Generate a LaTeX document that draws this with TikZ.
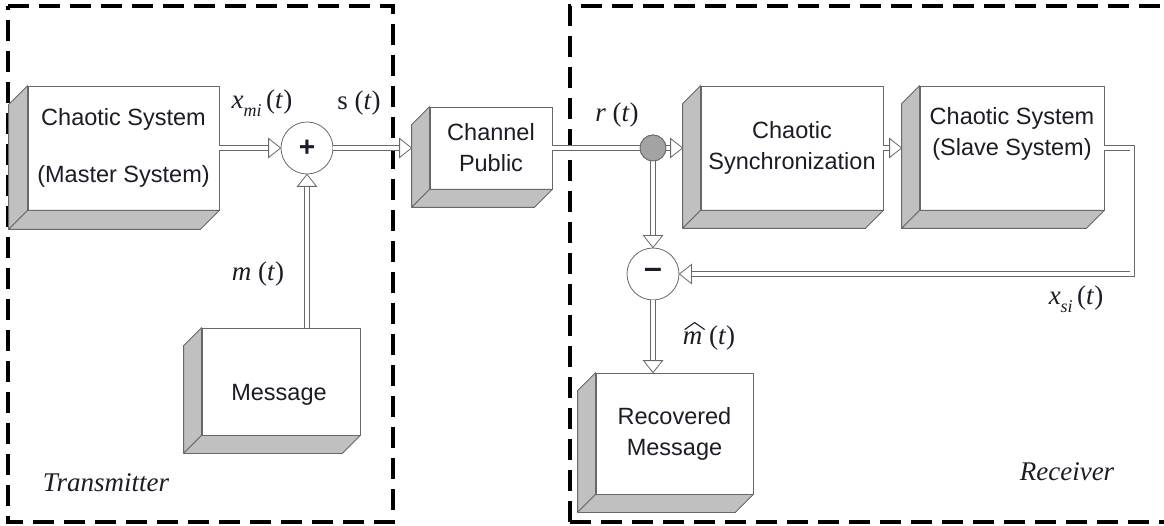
\documentclass[tikz,border=0pt]{standalone}
\usepackage{fontspec}
\setmainfont{Liberation Serif}
\setsansfont{Liberation Sans}
\usetikzlibrary{calc,decorations.markings}

\definecolor{edge}{HTML}{686868}
\definecolor{face}{HTML}{C0C0C0}
\definecolor{ink}{HTML}{1C1C26}

\newcommand\blkfont{\sffamily\fontsize{23.5}{31}\selectfont}
\newcommand\labfont{\rmfamily\fontsize{27}{30}\selectfont}

% gray side and bottom faces of a raised block (node name, depth)
\newcommand\boxfaces[2]{%
  \filldraw[facestyle] (#1.north west) -- ++(-#2,#2) -- ($(#1.south west)+(-#2,#2)$) -- (#1.south west) -- cycle;
  \filldraw[facestyle] (#1.south west) -- ++(-#2,#2) -- ($(#1.south east)+(-#2,#2)$) -- (#1.south east) -- cycle;
}

\begin{document}
\begin{tikzpicture}[x=1pt,y=-1pt,
  block/.style={draw=edge, fill=white, line width=0.8pt, inner sep=0pt,
    text=ink, align=center, font=\blkfont},
  btext/.style={text=ink, align=center, font=\blkfont, inner sep=0pt},
  facestyle/.style={draw=edge, fill=face, line width=0.8pt, line join=round},
  summer/.style={circle, draw=edge, fill=white, line width=0.8pt, minimum size=52pt,
    inner sep=0pt, text=ink},
  junction/.style={circle, draw=edge, fill=face!85!black, line width=0.8pt,
    minimum size=26pt, inner sep=0pt},
  dblline/.style={draw=edge, line width=0.8pt, double=white, double distance=4pt},
  % hollow double-line arrow: shaft stops under an outlined white triangle
  dbl/.style={dblline, shorten >=9pt,
    postaction={decorate, decoration={markings, mark=at position 1 with {
      \filldraw[draw=edge, fill=white, line width=0.8pt, line join=miter]
        (0pt,0pt) -- (-12pt,9.5pt) -- (-12pt,-9.5pt) -- cycle;}}}},
  lab/.style={text=ink, font=\labfont, inner sep=0pt},
  border/.style={black, line width=3.2pt, dash pattern=on 21pt off 10pt}]

\useasboundingbox (0,0) rectangle (1164,526);
\clip (0,0) rectangle (1164,526);

% dashed frames of the two stations
\draw[border] (8,6) -- (393,6) -- (393,522) -- (8,522) -- cycle;
\draw[border] (570,522) -- (570,6) -- (1180,6);
\draw[border] (570,522) -- (1180,522);

% blocks
\node[block, minimum width=191pt, minimum height=124pt] (master) at (123.5,148)
  {Chaotic System\\[26pt](Master System)};
\boxfaces{master}{19}

\node[block, minimum width=158pt, minimum height=107pt] (msg) at (281,381.5) {};
\node[btext] (msgtext) at (279,395) {Message};
\boxfaces{msg}{18}

\node[block, minimum width=122pt, minimum height=82pt] (chan) at (491,148)
  {Channel\\Public};
\boxfaces{chan}{18}

\node[block, minimum width=182pt, minimum height=124pt] (sync) at (792,148)
  {Chaotic\\Synchronization};
\boxfaces{sync}{18}

\node[block, minimum width=184pt, minimum height=124pt] (slave) at (1012,148) {};
\node[btext] (slavetext) at (1012,134) {Chaotic System\\(Slave System)};
\boxfaces{slave}{18}

\node[block, minimum width=157pt, minimum height=121pt] (rec) at (674.5,433.5)
  {Recovered\\Message};
\boxfaces{rec}{18}

% summing points and pick-off junction
\node[summer, font=\sffamily\bfseries\fontsize{28}{28}\selectfont] (sum) at (307,148) {+};
\node[junction] (junc) at (653,148) {};
\node[summer, font=\sffamily\bfseries\fontsize{32}{32}\selectfont] (minus) at (653,274)
  {\raisebox{2pt}{--}};

% entry points on the back edges of the blocks
\coordinate (chanback) at ([xshift=-18pt]chan.west);
\coordinate (syncback) at ([xshift=-18pt]sync.west);
\coordinate (slaveback) at ([xshift=-18pt]slave.west);

% signal flow
\draw[dbl] (master.east) -- (sum.west);
\draw[dbl] (sum.south |- msg.north) -- (sum.south);
\draw[dbl] (sum.east) -- (chanback |- sum.east);
\draw[dblline] (chan.east |- junc.west) -- (junc.west);
\draw[dbl] (junc.east) -- (syncback |- junc.east);
\draw[dbl] (sync.east |- junc.east) -- (slaveback |- junc.east);
\draw[dbl] (slave.east |- junc.east) -- ++(28,0) |- (minus.east);
\draw[dbl] (junc.south) -- (minus.north);
\draw[dbl] (minus.south) -- (minus.south |- rec.north);
\node[junction] at (junc) {};

% signal labels
\node[lab] (lxm) at (262,103) {\textit{x}\raisebox{-8pt}{\fontsize{18}{18}\selectfont\textit{mi}}\,(\textit{t})};
\node[lab] (ls) at (359,103) {s (\textit{t})};
\node[lab] (lr) at (617,115) {\textit{r} (\textit{t})};
\node[lab] (lm) at (258,274) {\textit{m} (\textit{t})};
\node[lab] (lxs) at (1076,299) {\textit{x}\raisebox{-8pt}{\fontsize{18}{18}\selectfont\textit{si}}\,(\textit{t})};
\node[lab] (lmh) at (709,338) {\textit{m} (\textit{t})};
% wide hat over the estimated message
\draw[ink, line width=1.1pt, line join=miter]
  ([shift={(2,4)}]lmh.north west) -- ([shift={(12,-3)}]lmh.north west)
  -- ([shift={(22,4)}]lmh.north west);

% station names
\node[text=ink, font=\rmfamily\itshape\fontsize{27}{27}\selectfont, inner sep=0pt] (tx) at (106,483) {Transmitter};
\node[text=ink, font=\rmfamily\itshape\fontsize{27}{27}\selectfont, inner sep=0pt] (rx) at (1067,472) {Receiver};
\end{tikzpicture}
\end{document}
